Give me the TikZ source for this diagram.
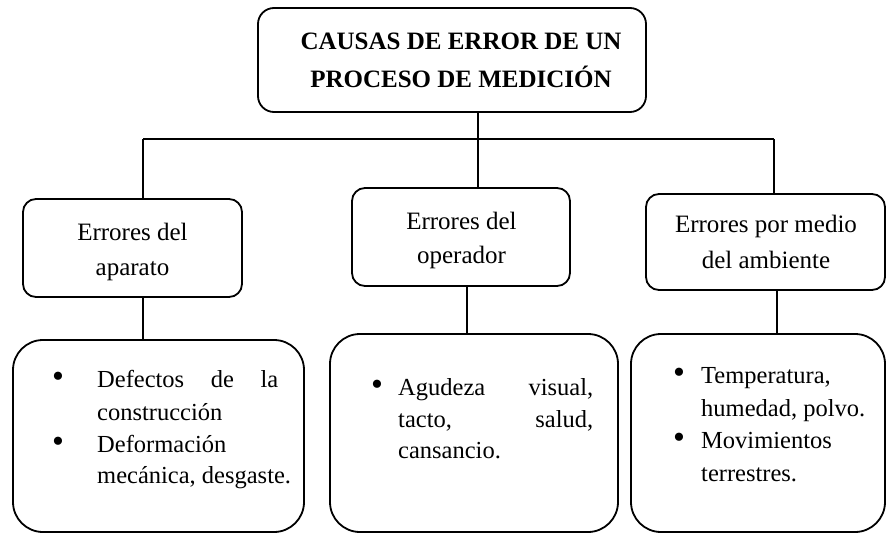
\documentclass[tikz,border=0pt]{standalone}
\usepackage{fontspec}
\setmainfont{Liberation Serif}
\begin{document}
\begin{tikzpicture}[x=1pt,y=-1pt,
  boxline/.style={draw=black,line width=1.8pt},
  topbox/.style={boxline,rounded corners=16pt,inner sep=0pt},
  midbox/.style={boxline,rounded corners=13pt,inner sep=0pt},
  lowbox/.style={boxline,rounded corners=30pt,inner sep=0pt},
  conn/.style={draw=black,line width=1.6pt},
  ttl/.style={font=\fontsize{25}{30}\selectfont\bfseries,anchor=base,inner sep=0pt},
  txt/.style={font=\fontsize{25}{30}\selectfont,anchor=base,inner sep=0pt},
  ltxt/.style={font=\fontsize{24.5}{30}\selectfont,anchor=base west,inner sep=0pt},
  bul/.style={font=\fontsize{34}{40}\selectfont,anchor=center,inner sep=0pt}
]
\useasboundingbox (0,0) rectangle (887,535);

% boxes
\node[topbox,minimum width=388pt,minimum height=104pt] (title) at (452,60) {};
\node[midbox,minimum width=219pt,minimum height=98pt] (b1) at (132.5,248) {};
\node[midbox,minimum width=218pt,minimum height=98pt] (b2) at (461,237) {};
\node[midbox,minimum width=239pt,minimum height=96pt] (b3) at (765.5,242) {};
\node[lowbox,minimum width=291pt,minimum height=192pt] (b4) at (158.5,436) {};
\node[lowbox,minimum width=288pt,minimum height=198pt] (b5) at (474,433) {};
\node[lowbox,minimum width=254pt,minimum height=198pt] (b6) at (758,433) {};

% title text
\node[ttl] (t1) at (461,50) {CAUSAS DE ERROR DE UN};
\node[ttl] (t2) at (461,88) {PROCESO DE MEDICIÓN};

% middle texts
\node[txt] (m1a) at (132.5,240) {Errores del};
\node[txt] (m1b) at (132.5,275) {aparato};
\node[txt] (m2a) at (461.5,229) {Errores del};
\node[txt] (m2b) at (461.5,263) {operador};
\node[txt] (m3a) at (766,232) {Errores por medio};
\node[txt] (m3b) at (766,268) {del ambiente};

% connectors
\coordinate (jl) at (143,139);
\coordinate (jm) at (478,139);
\coordinate (jr) at (774,139);
\draw[conn] (jl) -- (jr);
\draw[conn] (title.south -| jm) -- (b2.north -| jm);
\draw[conn] (jl) -- (b1.north -| jl);
\draw[conn] (jr) -- (b3.north -| jr);
\coordinate (vl) at (143,0);
\coordinate (vm) at (467,0);
\coordinate (vr) at (777,0);
\draw[conn] (b1.south -| vl) -- (b4.north -| vl);
\draw[conn] (b2.south -| vm) -- (b5.north -| vm);
\draw[conn] (b3.south -| vr) -- (b6.north -| vr);

% lower box 1
\node[bul] (p1) at (58,380) {•};
\node[ltxt] (l1a) at (97,387) {\hbox to 181pt{Defectos\hfill de\hfill la}};
\node[ltxt] (l1b) at (97,420) {construcción};
\node[bul] (p2) at (58,445) {•};
\node[ltxt] (l1c) at (97,452) {Deformación};
\node[ltxt] (l1d) at (97,483) {mecánica, desgaste.};

% lower box 2
\node[bul] (p3) at (377,388) {•};
\node[ltxt] (l2a) at (398,395) {\hbox to 195pt{Agudeza\hfill visual,}};
\node[ltxt] (l2b) at (398,427) {\hbox to 195pt{tacto,\hfill salud,}};
\node[ltxt] (l2c) at (398,458) {cansancio.};

% lower box 3
\node[bul] (p4) at (679,376) {•};
\node[ltxt] (l3a) at (701,383) {Temperatura,};
\node[ltxt] (l3b) at (701,416) {humedad, polvo.};
\node[bul] (p5) at (679,441) {•};
\node[ltxt] (l3c) at (701,448) {Movimientos};
\node[ltxt] (l3d) at (701,481) {terrestres.};
\end{tikzpicture}
\end{document}
